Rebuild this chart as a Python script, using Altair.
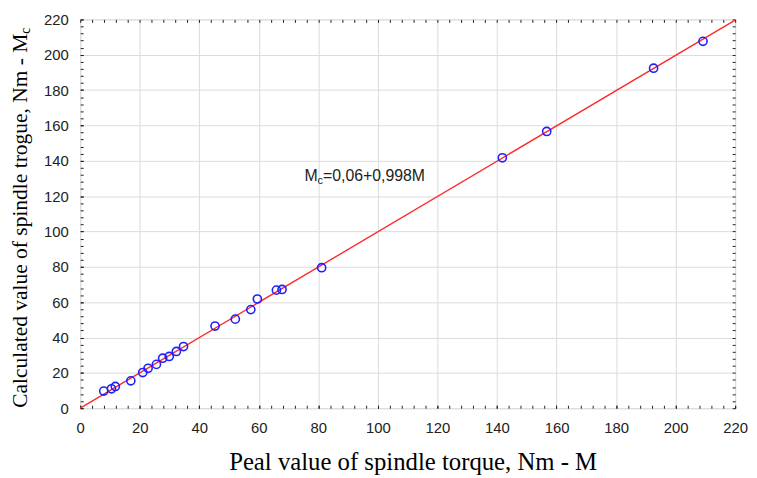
import altair as alt
import pandas as pd

# Data
peak_M = [7.9, 10.5, 11.8, 17.0, 21.0, 22.8, 25.6, 27.7, 29.9, 32.3, 34.7,
          45.3, 52.1, 57.3, 59.5, 65.9, 67.8, 81.1, 141.8, 156.7, 192.6, 209.2]
calc_Mc = [9.7, 11.0, 12.3, 15.5, 20.2, 22.6, 24.8, 28.3, 29.3, 32.1, 34.9,
           46.5, 50.4, 55.8, 61.8, 66.8, 67.2, 79.5, 141.7, 156.6, 192.4, 207.6]
fit_intercept = 0.06
fit_slope = 0.998
line_M = [0, 220]
major_ticks = list(range(0, 221, 20))
minor_ticks = list(range(0, 221, 4))
eq_pos = [75.3, 128.4]

pts = pd.DataFrame({"M": peak_M, "Mc": calc_Mc})
fit = pd.DataFrame({"M": line_M, "Mc": [fit_intercept + fit_slope * m for m in line_M]})

DOM = [0, 220]
SANS = "Liberation Sans"
SERIF = "Liberation Serif"


def sc():
    return alt.Scale(domain=DOM, nice=False, zero=False)


def tick_axis(orient):
    return alt.Axis(orient=orient, values=minor_ticks, tickCount=200, offset=-3,
                    tickSize=3, tickColor="#222", labels=False, domain=False,
                    grid=False, title=None)


x_main = alt.X("M:Q", scale=sc(),
               axis=alt.Axis(orient="bottom", values=major_ticks, tickCount=200,
                             labelOverlap=False, labelFlush=False, offset=-3,
                             tickSize=3, tickColor="#222", domain=False,
                             grid=True, gridColor="#dcdcdc",
                             labelFont=SANS, labelFontSize=15, labelColor="#222",
                             labelPadding=13,
                             title="Peal value of spindle torque, Nm - M",
                             titleFont=SERIF, titleFontSize=25, titleFontWeight="normal",
                             titleColor="#000", titlePadding=14, titleX=336))
y_main = alt.Y("Mc:Q", scale=sc(),
               axis=alt.Axis(orient="left", values=major_ticks, tickCount=200,
                             labelOverlap=False, labelFlush=False, offset=-3,
                             tickSize=3, tickColor="#222", domain=False,
                             grid=True, gridColor="#dcdcdc",
                             labelFont=SANS, labelFontSize=15, labelColor="#222",
                             labelPadding=12, title=None))

line = alt.Chart(fit).mark_line(color="#ff2a2a", strokeWidth=1.4).encode(x=x_main, y=y_main)

eq_df = pd.DataFrame({"M": [eq_pos[0]], "Mc": [eq_pos[1]]})
eq_base = alt.Chart(eq_df).encode(x="M:Q", y="Mc:Q")
eq1 = eq_base.mark_text(text="M", align="left", baseline="alphabetic", font=SANS,
                        fontSize=16, color="#222")
eq2 = eq_base.mark_text(text="c", align="left", baseline="alphabetic", font=SANS,
                        fontSize=11, color="#222", dx=13.3, dy=3)
eq3 = eq_base.mark_text(text="=0,06+0,998M", align="left", baseline="alphabetic",
                        font=SANS, fontSize=16, color="#222", dx=18.8)

ytitle_main = alt.Chart(eq_df).mark_text(
    text="Calculated value of spindle trogue, Nm - M", angle=270, align="right",
    baseline="alphabetic", font=SERIF, fontSize=21.7, color="#000"
).encode(x=alt.value(-53.5), y=alt.value(14.4))
ytitle_sub = alt.Chart(eq_df).mark_text(
    text="c", angle=270, align="left", baseline="alphabetic", font=SERIF,
    fontSize=14, color="#000"
).encode(x=alt.value(-50.5), y=alt.value(14.4))

inner = alt.layer(line, eq1, eq2, eq3, ytitle_main, ytitle_sub)

# minor ticks on bottom / left (invisible carrier marks)
minor_bl = alt.Chart(fit).mark_line(opacity=0).encode(
    x=alt.X("M:Q", scale=sc(), axis=tick_axis("bottom")),
    y=alt.Y("Mc:Q", scale=sc(), axis=tick_axis("left")),
)

# points with minor ticks on top / right
points = alt.Chart(pts).mark_point(shape="circle", filled=False, color="#1f1fff",
                                   size=68, strokeWidth=1.6, opacity=1).encode(
    x=alt.X("M:Q", scale=sc(), axis=tick_axis("top")),
    y=alt.Y("Mc:Q", scale=sc(), axis=tick_axis("right")),
)

chart = alt.layer(inner, minor_bl, points).resolve_scale(
    x="independent", y="independent"
).resolve_axis(
    x="independent", y="independent"
).properties(
    width=662, height=393,
    autosize=alt.AutoSizeParams(type="none"),
    padding={"left": 73, "top": 9, "right": 14, "bottom": 68},
).configure_view(stroke="#333", strokeWidth=1).configure(background="white")

chart.save("out.html", embed_options={"renderer": "svg", "actions": False})
